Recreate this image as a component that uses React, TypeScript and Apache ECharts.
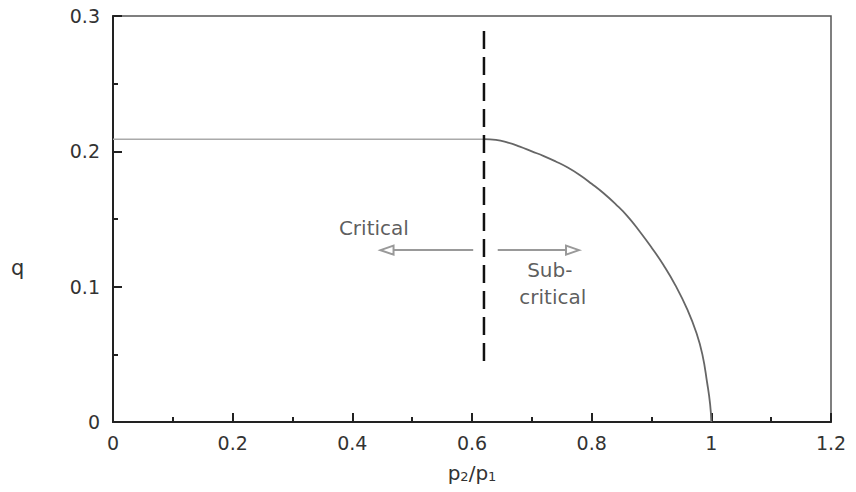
import React, { useEffect, useRef } from "react";
import * as echarts from "echarts";

const xTickLabels = ["0", "0.2", "0.4", "0.6", "0.8", "1", "1.2"];
const yTickLabels = ["0", "0.1", "0.2", "0.3"];

const flatPart: [number, number][] = [
  [0, 0.209],
  [0.62, 0.209],
];
const curvePart: [number, number][] = [
  [0.62, 0.209],
  [0.64, 0.2085],
  [0.66, 0.2065],
  [0.68, 0.2035],
  [0.7, 0.2],
  [0.72, 0.1965],
  [0.74, 0.1925],
  [0.76, 0.188],
  [0.78, 0.1825],
  [0.8, 0.176],
  [0.82, 0.169],
  [0.84, 0.161],
  [0.86, 0.152],
  [0.88, 0.141],
  [0.9, 0.129],
  [0.92, 0.116],
  [0.94, 0.101],
  [0.96, 0.083],
  [0.975, 0.066],
  [0.985, 0.05],
  [0.993, 0.029],
  [0.998, 0.013],
  [1.0, 0],
];
const boundary: [number, number][] = [
  [0.62, 0.045],
  [0.62, 0.292],
];
const criticalArrow: [number, number][] = [
  [0.602, 0.127],
  [0.458, 0.127],
];
const subArrow: [number, number][] = [
  [0.643, 0.127],
  [0.768, 0.127],
];
const annotations: { name: string; value: [number, number] }[] = [
  { name: "Critical", value: [0.436, 0.143] },
  { name: "Sub-", value: [0.73, 0.112] },
  { name: "critical", value: [0.735, 0.092] },
];

const FONT = "DejaVu Sans";

export default function App() {
  const ref = useRef<HTMLDivElement>(null);
  useEffect(() => {
    if (!ref.current) return;
    const chart = echarts.init(ref.current, undefined, { renderer: "svg" });
    chart.setOption({
      animation: false,
      backgroundColor: "#fff",
      grid: {
        left: 113,
        right: 25,
        top: 16,
        bottom: 70,
        show: true,
        borderColor: "#555",
        borderWidth: 1.5,
      },
      xAxis: {
        type: "value",
        min: 0,
        max: 1.2,
        interval: 0.2,
        name: "p{s|2}/p{s|1}",
        nameLocation: "middle",
        nameGap: 40,
        nameTextStyle: {
          fontFamily: FONT,
          fontSize: 20,
          color: "#333",
          rich: {
            s: { fontFamily: FONT, fontSize: 13, color: "#333", verticalAlign: "bottom", padding: [8, 0, 0, 0] },
          },
        },
        axisLine: { show: true, lineStyle: { color: "#222", width: 2 } },
        axisTick: { show: true, inside: true, length: 9, lineStyle: { color: "#222", width: 2 } },
        minorTick: { show: true, splitNumber: 2, length: 5, lineStyle: { color: "#222", width: 2 } },
        splitLine: { show: false },
        axisLabel: {
          margin: 11,
          fontFamily: FONT,
          fontSize: 19,
          color: "#333",
          formatter: (v: number) => xTickLabels[Math.round(v / 0.2)] ?? "",
        },
      },
      yAxis: {
        type: "value",
        min: 0,
        max: 0.3,
        interval: 0.1,
        axisLine: { show: true, lineStyle: { color: "#222", width: 2 } },
        axisTick: { show: true, inside: true, length: 9, lineStyle: { color: "#222", width: 2 } },
        minorTick: { show: true, splitNumber: 2, length: 5, lineStyle: { color: "#222", width: 2 } },
        splitLine: { show: false },
        axisLabel: {
          margin: 13,
          fontFamily: FONT,
          fontSize: 19,
          color: "#333",
          formatter: (v: number) => yTickLabels[Math.round(v / 0.1)] ?? "",
        },
      },
      graphic: [
        {
          type: "text",
          left: 11,
          top: 257,
          style: { text: "q", fontFamily: FONT, fontSize: 21, fill: "#333" },
        },
      ],
      series: [
        {
          type: "line",
          data: flatPart,
          showSymbol: false,
          lineStyle: { color: "#aaa", width: 1.5 },
          z: 2,
        },
        {
          type: "line",
          data: curvePart,
          smooth: 0.5,
          showSymbol: false,
          lineStyle: { color: "#666", width: 1.8 },
          z: 2,
        },
        {
          type: "line",
          data: boundary,
          showSymbol: false,
          lineStyle: { color: "#111", width: 2.5, type: [18, 8] },
          z: 3,
        },
        {
          type: "line",
          data: [],
          markLine: {
            silent: true,
            symbol: ["none", "emptyTriangle"],
            symbolSize: [9, 13],
            label: { show: false },
            lineStyle: { color: "#999", width: 2, type: "solid" },
            data: [
              [{ coord: criticalArrow[0] }, { coord: criticalArrow[1] }],
              [{ coord: subArrow[0] }, { coord: subArrow[1] }],
            ],
          },
        },
        {
          type: "scatter",
          data: annotations,
          symbolSize: 0,
          label: {
            show: true,
            position: "inside",
            formatter: (p: any) => p.name,
            fontFamily: FONT,
            fontSize: 20,
            color: "#333",
          },
        },
      ],
    });
    return () => chart.dispose();
  }, []);
  return <div ref={ref} style={{ width: 856, height: 492, position: "absolute", left: 0, top: 0 }} />;
}
